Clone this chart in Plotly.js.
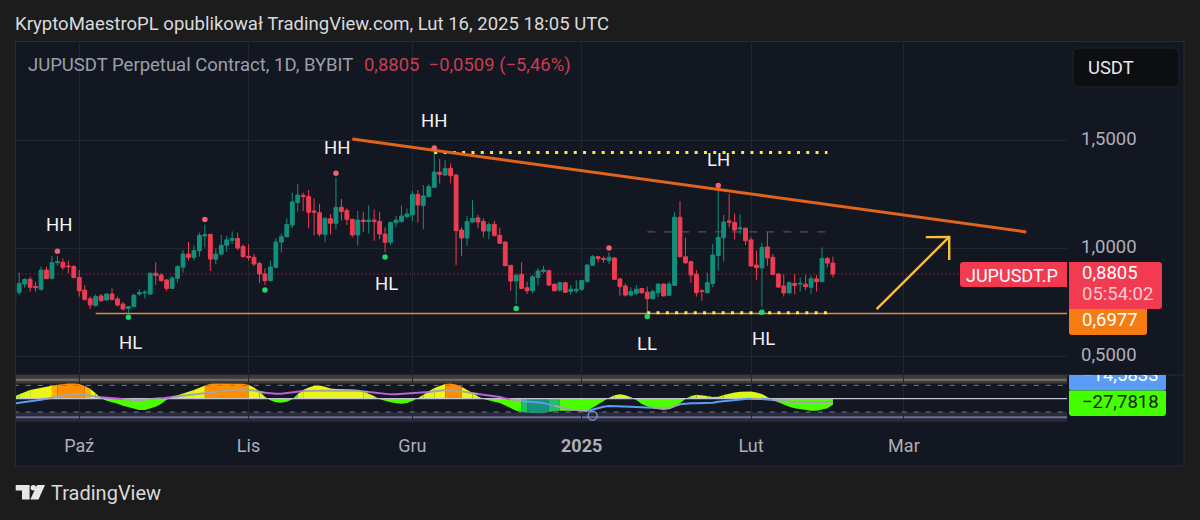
<!DOCTYPE html>
<html><head><meta charset="utf-8">
<script src="https://cdn.plot.ly/plotly-3.0.1.min.js"></script>
<style>html,body{margin:0;padding:0;background:#1c1c1c;overflow:hidden}#c{width:1200px;height:520px}</style>
</head><body><div id="c"></div>
<script>
// ---- daily candles, 2024-09-19 .. 2025-02-16 ----
const firstDay = '2024-09-19';
const open = [.752,.796,.834,.856,.823,.810,.899,.861,.933,.935,.918,.915,
.865,.806,.766,.735,.779,.760,.788,.765,.741,.721,.729,.788,.793,.788,.884,.876,.853,.814,.861,.912,.973,.958,.989,1.057,1.065,.949,.973,1.014,1.037,1.045,1.008,
.963,.958,.929,.881,.850,.912,1.029,1.054,1.108,1.213,1.246,1.240,1.173,1.165,1.065,1.137,1.116,1.190,1.175,1.134,1.062,1.131,1.124,1.131,1.125,1.066,1.028,1.119,1.125,1.147,
1.155,1.250,1.199,1.240,1.283,1.353,1.340,1.371,1.340,1.085,1.048,1.122,1.141,1.125,1.080,1.111,1.060,1.029,.921,.848,.879,.817,.803,.865,.892,.896,.833,.806,.840,.799,.803,
.810,.845,.921,.961,.953,.943,.955,.858,.825,.783,.791,.813,.796,.766,.794,.834,.782,.828,1.144,.961,.938,.879,.803,.794,.837,.967,1.049,1.127,1.120,1.090,1.093,
1.039,.922,.909,1.006,.958,.881,.825,.793,.837,.834,.833,.819,.858,.845,.952,.9314];
const high = [.799,.888,.861,.868,.845,.915,.915,.964,.964,.953,.943,.922,
.899,.830,.776,.786,.788,.791,.814,.776,.752,.732,.791,.810,.806,.888,.935,.884,.858,.871,.922,.992,1.029,1.012,1.073,1.110,1.067,1.000,1.062,1.059,1.079,1.073,1.018,
1.018,.973,.938,.907,.943,1.046,1.069,1.139,1.258,1.298,1.258,1.271,1.232,1.206,1.144,1.159,1.328,1.229,1.185,1.137,1.173,1.170,1.199,1.181,1.170,1.097,1.124,1.150,1.199,1.185,
1.267,1.271,1.294,1.297,1.456,1.414,1.410,1.394,1.343,1.097,1.150,1.224,1.155,1.139,1.119,1.128,1.096,1.031,.922,.884,.935,.845,.876,.907,.918,.902,.837,.845,.845,.830,.853,
.853,.926,.969,.964,.961,.981,.958,.861,.837,.819,.830,.814,.822,.810,.837,.837,.845,1.167,1.218,1.049,.943,.899,.810,.887,1.020,1.271,1.155,1.252,1.162,1.158,1.096,
1.051,.989,1.026,1.073,.973,.884,.879,.845,.881,.864,.876,.873,.876,1.004,.961,.961];
const low = [.748,.783,.817,.799,.799,.803,.858,.856,.919,.899,.884,.861,
.776,.757,.718,.729,.751,.757,.757,.729,.711,.701,.726,.780,.768,.783,.830,.845,.802,.811,.842,.887,.943,.943,.961,1.004,.895,.926,.967,.984,1.020,.992,.958,
.943,.918,.840,.830,.847,.909,.980,1.049,1.093,1.170,1.173,1.093,1.060,1.054,1.028,1.065,1.088,1.128,1.108,1.051,1.012,1.077,1.069,1.035,1.042,.981,1.015,1.097,1.119,1.139,
1.124,1.119,1.088,1.236,1.280,1.301,1.335,1.301,.922,.964,1.011,1.119,1.093,1.051,1.042,1.054,1.020,.918,.803,.741,.810,.788,.791,.827,.884,.825,.800,.799,.794,.783,.791,
.802,.842,.918,.935,.933,.927,.854,.780,.776,.776,.783,.788,.701,.763,.772,.777,.779,.825,.958,.927,.840,.776,.757,.791,.819,.896,.938,1.097,1.042,1.066,1.015,
.916,.853,.729,.918,.876,.817,.776,.791,.786,.799,.806,.788,.800,.844,.912,.864];
const close = [.791,.837,.856,.819,.817,.899,.859,.933,.938,.912,.915,.864,
.802,.763,.737,.776,.757,.788,.763,.737,.718,.729,.782,.794,.796,.884,.874,.850,.814,.862,.915,.973,.958,.989,1.060,1.063,.950,.973,1.014,1.039,1.045,1.001,.961,
.958,.927,.881,.850,.913,1.029,1.054,1.110,1.215,1.247,1.240,1.167,1.168,1.066,1.139,1.116,1.190,1.171,1.134,1.062,1.131,1.124,1.131,1.125,1.066,1.028,1.120,1.131,1.150,1.159,
1.250,1.201,1.243,1.286,1.354,1.343,1.371,1.337,1.082,1.048,1.124,1.139,1.122,1.080,1.110,1.060,1.023,.919,.848,.874,.814,.803,.868,.895,.899,.830,.803,.840,.796,.810,.810,
.850,.922,.961,.952,.949,.958,.856,.822,.783,.800,.810,.794,.766,.799,.834,.779,.834,1.144,.961,.933,.876,.794,.800,.840,.969,1.051,1.122,1.122,1.085,1.094,1.035,
.918,.910,1.004,.955,.879,.820,.793,.840,.827,.837,.822,.859,.845,.952,.9314,.8805];

// ---- momentum oscillator and its signal line (same days) ----
const oscillator = [9,19.5,30,39,45,49.5,54,58.5,63,67.5,
69,69,66,57,45,24,1.5,-9,-15,-22.5,
-31.5,-39,-46.5,-51,-51,-45,-36,-22.5,-4.5,7.5,
15,22.5,30,39,49.5,60,67.5,69,69,69,
69,69,67.5,63,51,33,9,-7.5,-16.5,-18,
-13.5,-3,21,39,51,58.5,60,54,46.5,43.5,
43.5,43.5,42,39,33,24,12,-3,-10.5,-16.5,
-21,-22.5,-19.5,-10.5,3,18,34.5,48,58.5,66,
69,64.5,54,39,25.5,10.5,-1.5,-9,-13.5,-19.5,
-31.5,-45,-54,-60,-63,-66,-66,-64.5,-60,-57,
-54,-54,-55.5,-55.5,-55.5,-54,-40.5,-25.5,-9,4.5,
15,19.5,15,6,-6,-24,-34.5,-43.5,-48,-51,
-48,-37.5,-21,-1.5,12,18,16.5,12,7.5,9,
16.5,24,28.5,31.5,33,33,28.5,21,7.5,-6,
-16.5,-27,-36,-43.5,-48,-51,-54,-54,-49.5,-43.5,-27.78];
const signal = [-22.5,-19.5,-16.5,-12,-9,-4.5,0,4.5,9,15,
18,19.5,21,18,13.5,9,6,4.5,3,1.5,
-1.5,-4.5,-6,-6,-4.5,-3,-1.5,1.5,4.5,7.5,
10.5,13.5,16.5,18,21,22.5,25.5,28.5,31.5,34.5,
39,42,42,40.5,37.5,31.5,27,24,22.5,22.5,
25.5,28.5,31.5,34.5,36,36,36,36,36,37.5,
39,39,39,36,33,30,27,24,21,19.5,
19.5,21,22.5,24,25.5,27,30,31.5,36,39,
39,37.5,33,28.5,24,21,18,15,12,7.5,
1.5,-3,-7.5,-10.5,-12,-13.5,-16.5,-19.5,-25.5,-31.5,
-37.5,-43.5,-49.5,-51,-54,-55.5,-48,-43.5,-36,-33,
-33,-34.5,-36,-36,-37.5,-39,-39,-40.5,-42,-43.5,
-42,-33,-25.5,-22.5,-21,-21,-21,-21,-18,-13.5,
-10.5,-7.5,-6,-3,-1.5,0,0,-1.5,-4.5,-6,
-9,-12,-13.5,-15,-16.5,-16.5,-16.5,-15,-13.5,-13.5,-14.58];

// ---- pivots ----
const pivotHighDates = ['2024-09-27','2024-10-24','2024-11-17','2024-12-05','2025-01-06','2025-01-26'];
const pivotHighValues = [.986,1.134,1.348,1.465,1.001,1.291];
const pivotLowDates = ['2024-10-10','2024-11-04','2024-11-26','2024-12-20','2025-01-13','2025-02-03'];
const pivotLowValues = [.680,.807,.960,.721,.683,.703];

// ---- drawings ----
const trendDates = ['2024-11-20','2025-03-23 10:00'];
const trendValues = [1.507,1.076];
const topLevelDates = ['2024-12-05','2025-02-15'];
const topLevelValues = [1.444,1.444];
const floorDottedDates = ['2025-01-13','2025-02-15'];
const floorDottedValues = [.701,.701];
const midDashDates = ['2025-01-13','2025-02-15'];
const midDashValues = [1.076,1.076];
const supportDates = ['2024-10-04','2025-03-31'];
const supportValues = [.6977,.6977];
const lastPriceDates = ['2024-09-19','2025-03-31'];
const lastPriceValues = [.8805,.8805];
const arrowDates = ['2025-02-24','2025-03-09 07:00',null,'2025-03-05','2025-03-09 07:00','2025-03-09 07:00'];
const arrowValues = [.718,1.053,null,1.052,1.053,.946];

const monthTicks = ['2024-10-01','2024-11-01','2024-12-01','2025-01-01','2025-02-01','2025-03-01'];
const monthLabels = ['Paź','Lis','Gru','<b>2025</b>','Lut','Mar'];
const priceTicks = [.5,1,1.5];

const dateAt = i => { const d = new Date(Date.parse(firstDay+'T00:00:00Z')+i*864e5); return d.toISOString().slice(0,10); };
const days = open.map((_,i)=>dateAt(i));
const FONT = 'Roboto, sans-serif';
const X = p => p/1200, Y = p => 1-p/520;

const traces = [];
// oscillator fill, grouped by colour band
function oscColor(i){
  const o=oscillator[i], d=o-signal[i];
  if (o>=0){
    if (o>=60&&d>=25) return '#ff8f00';
    if (o>=56&&d>=25) return '#ffb000';
    if (o>=38) return '#ecf51a';
    if (o>=15) return '#d8f81a';
    return '#b4f81a';
  }
  if (o<=-62) return '#17917a';
  if (o<=-56) return '#1fc060';
  return '#4cff00';
}
(function(){
  let start=0;
  for(let i=1;i<=oscillator.length;i++){
    const end = i===oscillator.length || oscColor(i)!==oscColor(start);
    if(end){
      const to=Math.min(i,oscillator.length-1);
      traces.push({type:'scatter',mode:'lines',x:days.slice(start,to+1),y:oscillator.slice(start,to+1),xaxis:'x',yaxis:'y2',
        fill:'tozeroy',fillcolor:oscColor(start),line:{width:0,color:oscColor(start)},hoverinfo:'skip',showlegend:false});
      start=i;
    }
  }
})();
// indicator levels
const levelDates=['2024-09-19','2025-03-31'];
[[60,'dash'],[-60,'dash'],[0,'solid']].forEach(([lv,kind])=>{
  traces.push({type:'scatter',mode:'lines',x:levelDates,y:[lv,lv],xaxis:'x',yaxis:'y2',hoverinfo:'skip',showlegend:false,
    line:kind==='dash'?{color:'#787b86',width:1,dash:'5px,7px'}:{color:'#c2c4cc',width:1.3}});
});
// signal line, coloured by its relation to the fill
function sigColor(i){
  const s=signal[i],o=oscillator[i];
  if(o<=-60) return '#5b9cf6';
  const inside=(o>=0&&s>=0&&s<=o)||(o<0&&s<0&&s>=o);
  if(inside) return '#a5a5a5';
  return s>o?'#c05fd8':'#5b9cf6';
}
(function(){
  let start=0;
  for(let i=1;i<=signal.length;i++){
    const end = i===signal.length || sigColor(i)!==sigColor(start);
    if(end){
      const to=Math.min(i,signal.length-1);
      traces.push({type:'scatter',mode:'lines',x:days.slice(start,to+1),y:signal.slice(start,to+1),xaxis:'x',yaxis:'y2',
        line:{color:sigColor(start),width:2},hoverinfo:'skip',showlegend:false});
      start=i;
    }
  }
})();
traces.push({type:'scatter',mode:'markers',x:['2025-01-03'],y:[-76.6],xaxis:'x',yaxis:'y2',hoverinfo:'skip',showlegend:false,
  marker:{size:9,color:'rgba(0,0,0,0)',line:{color:'#7b9edb',width:1.3}}});

// price pane
const line=(x,y,l)=>({type:'scatter',mode:'lines',x,y,xaxis:'x',yaxis:'y',line:l,hoverinfo:'skip',showlegend:false});
traces.push(line(lastPriceDates,lastPriceValues,{color:'#c8394e',width:1,dash:'1px,3px'}));
traces.push(line(supportDates,supportValues,{color:'#e08a48',width:1.6}));
traces.push({type:'candlestick',x:days,open,high,low,close,xaxis:'x',yaxis:'y',
  increasing:{line:{color:'#11907c',width:1},fillcolor:'#11907c'},
  decreasing:{line:{color:'#ef3c52',width:1},fillcolor:'#ef3c52'},
  whiskerwidth:0,hoverinfo:'skip',showlegend:false});
traces.push(line(midDashDates,midDashValues,{color:'#5d5f68',width:1,dash:'8px,9px'}));
traces.push(line(topLevelDates,topLevelValues,{color:'#ffeb3b',width:3,dash:'3px,6.3px'}));
traces.push(line(floorDottedDates,floorDottedValues,{color:'#ffeb3b',width:3,dash:'3px,6.3px'}));
traces.push(line(trendDates,trendValues,{color:'#e0641a',width:3}));
traces.push(line(arrowDates,arrowValues,{color:'#f8c03a',width:2.4}));
traces.push({type:'scatter',mode:'markers',x:pivotHighDates,y:pivotHighValues,xaxis:'x',yaxis:'y',marker:{size:5.5,color:'#f26072'},hoverinfo:'skip',showlegend:false});
traces.push({type:'scatter',mode:'markers',x:pivotLowDates,y:pivotLowValues,xaxis:'x',yaxis:'y',marker:{size:5.5,color:'#1fd66c'},hoverinfo:'skip',showlegend:false});
// clipped value tag of the signal line
traces.push({type:'scatter',mode:'text',x:[.114],y:[100],text:['−14,5833'],textposition:'middle right',xaxis:'x2',yaxis:'y3',
  textfont:{family:FONT,size:18.5,color:'#ffffff'},cliponaxis:true,hoverinfo:'skip',showlegend:false});

// chrome
function rr(x0,y0,x1,y1,r,rs){
  const [a,b,c,d]=rs||[r,r,r,r];
  const P=(x,y)=>X(x)+' '+Y(y);
  return 'M'+P(x0+a,y0)+' L'+P(x1-b,y0)+' Q'+P(x1,y0)+' '+P(x1,y0+b)+' L'+P(x1,y1-c)+' Q'+P(x1,y1)+' '+P(x1-c,y1)+
    ' L'+P(x0+d,y1)+' Q'+P(x0,y1)+' '+P(x0,y1-d)+' L'+P(x0,y0+a)+' Q'+P(x0,y0)+' '+P(x0+a,y0)+' Z';
}
const pathShape=(path,fill,layer,lineColor)=>({type:'path',xref:'paper',yref:'paper',path,fillcolor:fill,line:{width:lineColor?1:0,color:lineColor||fill},layer:layer||'below'});
const poly=pts=>'M'+pts.map(p=>X(p[0])+' '+Y(p[1])).join(' L')+' Z';
const circ=(cx,cy,r)=>{const P=(x,y)=>X(x)+' '+Y(y);return 'M'+P(cx-r,cy)+' Q'+P(cx-r,cy-r)+' '+P(cx,cy-r)+' Q'+P(cx+r,cy-r)+' '+P(cx+r,cy)+' Q'+P(cx+r,cy+r)+' '+P(cx,cy+r)+' Q'+P(cx-r,cy+r)+' '+P(cx-r,cy)+' Z';};
const band=(y0,y1,fill)=>({type:'rect',xref:'x',yref:'y2',x0:levelDates[0],x1:levelDates[1],y0,y1,fillcolor:fill,line:{width:0},layer:'below'});
const shapes=[
  {type:'rect',xref:'paper',yref:'paper',x0:X(15.5),x1:X(1184),y0:Y(466),y1:Y(41.5),fillcolor:'#131722',line:{color:'#2a2c33',width:1},layer:'below'},
  {type:'line',xref:'paper',yref:'paper',x0:X(16),x1:X(1184),y0:Y(375),y1:Y(375),line:{color:'#2b2e36',width:1},layer:'below'},
  band(69,108,'#3c3a38'),
  band(-61,-104,'#292a3c'),
  {type:'line',xref:'x',yref:'y2',x0:levelDates[0],x1:levelDates[1],y0:85,y1:85,line:{color:'#6f6a5e',width:2.4},layer:'below'},
  {type:'line',xref:'x',yref:'y2',x0:levelDates[0],x1:levelDates[1],y0:-84,y1:-84,line:{color:'#716c8c',width:2},layer:'below'},
  pathShape(rr(1073,48,1179,87,6),'#0d0e12','below','#22252d'),
  pathShape(rr(960,262,1067,287,3,[3,0,0,3]),'#f23a50','above'),
  pathShape(rr(1069,262,1162,309,3,[0,3,3,0]),'#f23a50','above'),
  pathShape(rr(1069,309,1147,335,3,[0,0,3,3]),'#f57c13','above'),
  pathShape(rr(1069,375,1166,390.6,3,[0,0,3,3]),'#5b9cf6','below'),
  pathShape(rr(1069,390.6,1166,416,3,[0,0,3,3]),'#44ff00','above'),
  pathShape(poly([[15.7,485],[29.6,485],[29.6,499.5],[22,499.5],[22,490.5],[15.7,490.5]]),'#e6e6e6','above'),
  pathShape(circ(33.3,487.8,2.7),'#e6e6e6','above'),
  pathShape(poly([[37,485],[45,485],[38.5,499.5],[30.3,499.5]]),'#e6e6e6','above')
];
const ann=(text,x,y,size,color,anchor,extra)=>Object.assign({text,xref:'paper',yref:'paper',x:X(x),y:Y(y),xanchor:anchor||'left',yanchor:'middle',
  showarrow:false,font:{family:FONT,size,color},borderpad:0},extra||{});
const annotations=[
  ann('KryptoMaestroPL opublikował TradingView.com, Lut 16, 2025 18:05 UTC',14,24,18.55,'#d8dade'),
  ann('JUPUSDT Perpetual Contract, 1D, BYBIT',27,65,18.5,'#9ca0a8'),
  ann('0,8805  −0,0509 (−5,46%)',363,65,18.45,'#c93c50'),
  ann('USDT',1087,67,18.4,'#e8e9ec'),
  ann('HH',59,225,18.5,'#f4f4f4','center'),
  ann('HH',337,148,18.5,'#f4f4f4','center'),
  ann('HH',434,121,18.5,'#f4f4f4','center'),
  ann('LH',718,160,18.5,'#f4f4f4','center'),
  ann('HL',130,343,18.5,'#f4f4f4','center'),
  ann('HL',386,284,18.5,'#f4f4f4','center'),
  ann('HL',763,339,18.5,'#f4f4f4','center'),
  ann('LL',647,344,18.5,'#f4f4f4','center'),
  ann('JUPUSDT.P',965,275,18,'#ffffff'),
  ann('0,8805',1081,273,18.5,'#ffffff'),
  ann('05:54:02',1081,294,18.5,'#ffc9cf'),
  ann('0,6977',1081,320,18.5,'#ffffff'),
  ann('−27,7818',1081,402,18.5,'#0b1a00'),
  ann('TradingView',50,493,20,'#d8dade')
];
const layout={
  width:1200,height:520,margin:{l:0,r:0,t:0,b:0,pad:0},autosize:false,
  paper_bgcolor:'#1c1c1c',plot_bgcolor:'rgba(0,0,0,0)',showlegend:false,separators:', ',hovermode:false,
  boxgap:0.3,boxgroupgap:0,
  font:{family:FONT,color:'#b2b5be'},
  xaxis:{type:'date',domain:[X(16),X(1067)],range:['2024-09-19 10:00','2025-03-30 20:40'],anchor:'y2',
    rangeslider:{visible:false},tickmode:'array',tickvals:monthTicks,ticktext:monthLabels,showgrid:true,gridcolor:'#22262f',gridwidth:1,
    zeroline:false,showline:false,ticks:'',ticklabelstandoff:10,tickfont:{family:FONT,size:18,color:'#adb0ba'},fixedrange:true},
  yaxis:{domain:[Y(375),Y(41)],range:[.412,1.962],anchor:'x',side:'right',tickmode:'array',tickvals:priceTicks,tickformat:'.4f',
    showgrid:true,gridcolor:'#22262f',zeroline:false,showline:false,ticks:'',ticklabelstandoff:13,ticklabelshift:-2,
    tickfont:{family:FONT,size:18.5,color:'#adb0ba'},fixedrange:true},
  yaxis2:{domain:[Y(423),Y(375)],range:[-109.5,106.8],anchor:'x',visible:false,fixedrange:true},
  xaxis2:{domain:[X(1069),X(1183)],range:[0,1],anchor:'y3',visible:false,fixedrange:true},
  yaxis3:{domain:[Y(423),Y(375)],range:[-109.5,106.8],anchor:'x2',visible:false,fixedrange:true},
  shapes,annotations
};
Plotly.newPlot('c',traces,layout,{displayModeBar:false,staticPlot:true});
</script></body></html>
